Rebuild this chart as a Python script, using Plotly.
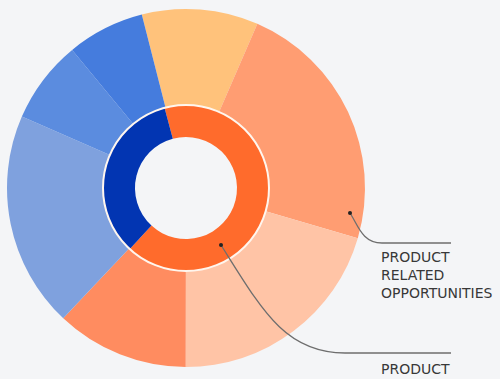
import plotly.graph_objects as go

# Data
outer_labels = ["Segment A", "Segment B", "Segment C", "Segment D", "Segment E", "Segment F", "Segment G"]
outer_values = [10.5, 23.0, 20.5, 12.0, 19.5, 7.5, 7.0]
outer_colors = ["#FFC27B", "#FF9D72", "#FFC4A6", "#FF8C60", "#7FA1DE", "#5B8CDF", "#457CDD"]

inner_labels = ["Product", "Other"]
inner_values = [66, 34]
inner_colors = ["#FF6B2C", "#0235B2"]

annot_lines_1 = ["PRODUCT", "RELATED", "OPPORTUNITIES"]
annot_lines_2 = ["PRODUCT"]

W, H = 500, 379
BG = "#F4F5F7"
cx, cy = 186, 188
R_out, R_mid, R_in = 179, 83, 51


def px(x):
    return x / W


def py(y):
    return 1 - y / H


fig = go.Figure()
fig.add_trace(go.Pie(
    labels=outer_labels, values=outer_values, sort=False,
    direction="clockwise", rotation=-14.3,
    hole=R_mid / R_out,
    marker=dict(colors=outer_colors, line=dict(width=0)),
    textinfo="none", hoverinfo="label+percent", showlegend=False,
    domain=dict(x=[px(cx - R_out), px(cx + R_out)], y=[py(cy + R_out), py(cy - R_out)]),
))
fig.add_trace(go.Pie(
    labels=inner_labels, values=inner_values, sort=False,
    direction="clockwise", rotation=-15,
    hole=R_in / R_mid,
    marker=dict(colors=inner_colors, line=dict(width=0)),
    textinfo="none", hoverinfo="label+percent", showlegend=False,
    domain=dict(x=[px(cx - R_mid), px(cx + R_mid)], y=[py(cy + R_mid), py(cy - R_mid)]),
))

shapes = [
    dict(type="circle", xref="paper", yref="paper",
         x0=px(cx - R_mid), x1=px(cx + R_mid), y0=py(cy + R_mid), y1=py(cy - R_mid),
         line=dict(color="#FFF6EE", width=2), layer="above"),
]

# leader lines
p1 = "M {},{} C {},{} {},{} {},{} L {},{}".format(
    px(350), py(213), px(358), py(225), px(362), py(243), px(382), py(243), px(451), py(243))
p2 = "M {},{} C {},{} {},{} {},{} L {},{}".format(
    px(221), py(245), px(262), py(310), px(285), py(353), px(345), py(353), px(451), py(353))
for p in (p1, p2):
    shapes.append(dict(type="path", xref="paper", yref="paper", path=p,
                       line=dict(color="#6E6E6E", width=1.3), layer="above"))
for (dx, dy) in ((350, 213), (221, 245)):
    shapes.append(dict(type="circle", xref="paper", yref="paper",
                       x0=px(dx - 2), x1=px(dx + 2), y0=py(dy + 2), y1=py(dy - 2),
                       fillcolor="#222222", line=dict(width=0), layer="above"))

font = dict(family="DejaVu Sans, sans-serif", size=14, color="#383838")
annotations = []
for i, t in enumerate(annot_lines_1):
    annotations.append(dict(text=t, xref="paper", yref="paper", x=px(379), y=py(257 + 18 * i),
                            xanchor="left", yanchor="middle", align="left", showarrow=False, font=font))
for i, t in enumerate(annot_lines_2):
    annotations.append(dict(text=t, xref="paper", yref="paper", x=px(379), y=py(369 + 18 * i),
                            xanchor="left", yanchor="middle", align="left", showarrow=False, font=font))

fig.update_layout(
    width=W, height=H, margin=dict(l=0, r=0, t=0, b=0),
    paper_bgcolor=BG, plot_bgcolor=BG,
    shapes=shapes, annotations=annotations,
)
fig.write_html("out.html", config={"displayModeBar": False},
               post_script="document.body.style.margin='0';document.body.style.background='%s';" % BG)
